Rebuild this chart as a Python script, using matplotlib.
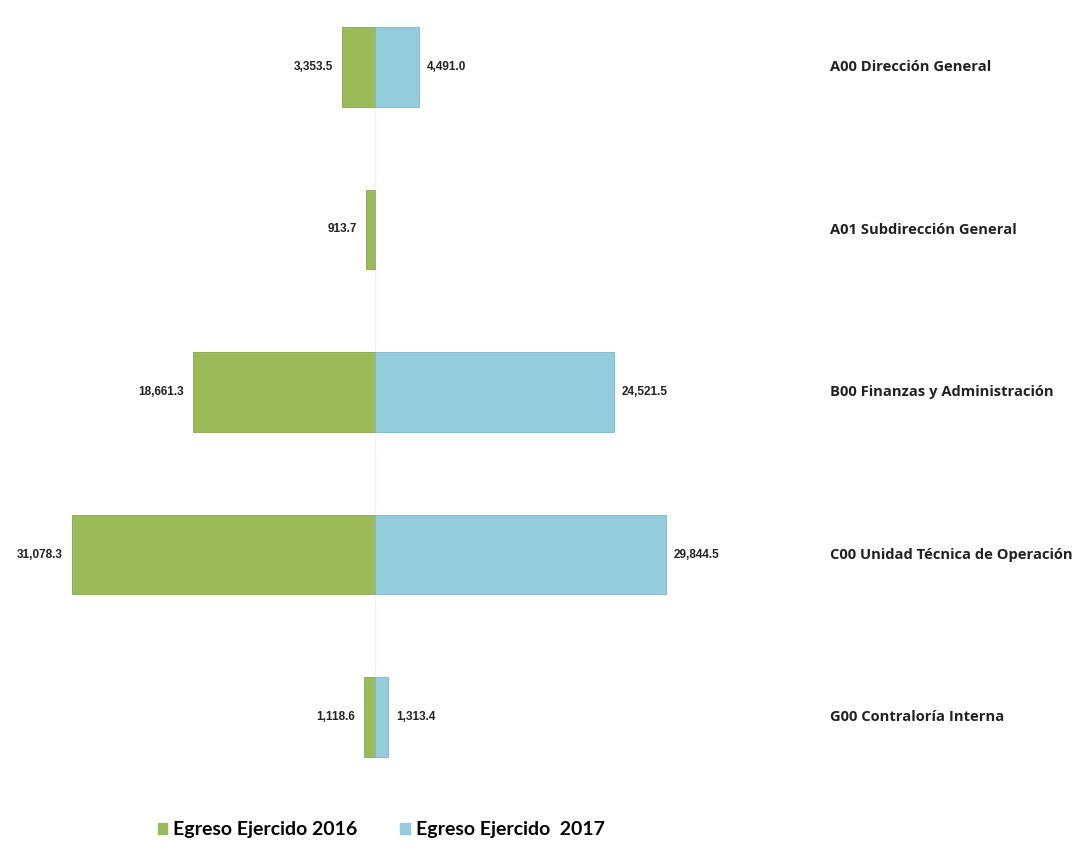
import matplotlib.pyplot as plt
from matplotlib.patches import Patch

# datos (millones de pesos)
areas = ['A00 Dirección General', 'A01 Subdirección General', 'B00 Finanzas y Administración',
         'C00 Unidad Técnica de Operación', 'G00 Contraloría Interna']
egreso_2016 = [3353.5, 913.7, 18661.3, 31078.3, 1118.6]
egreso_2017 = [4491.0, 0.0, 24521.5, 29844.5, 1313.4]
series = ['Egreso Ejercido 2016', 'Egreso Ejercido  2017']

verde = '#9bbb59'
azul = '#93cddd'

W, H = 1089, 861
fig = plt.figure(figsize=(W / 100, H / 100), dpi=100)
ax = fig.add_axes([0, 0, 1, 1])

upp = 102.6  # unidades por pixel
ax.set_xlim(-375 * upp, (W - 375) * upp)
esp = 162.5
ax.set_ylim((H - 67) / esp, -67 / esp)

y = list(range(len(areas)))
ax.barh(y, [-v for v in egreso_2016], height=0.49, color=verde, edgecolor='#86a84a', linewidth=0.6)
ax.barh(y, egreso_2017, height=0.49, color=azul, edgecolor='#7fb6c6', linewidth=0.6)
ax.plot([0, 0], [0.25, 3.75], color='#f0f0f0', lw=1, zorder=0)

vfont = dict(family=['Liberation Sans', 'DejaVu Sans'], fontsize=8.5, fontweight='bold', color='#222222')
for i in y:
    ax.text(-egreso_2016[i] - 9 * upp, i, f'{egreso_2016[i]:,.1f}', ha='right', va='center', **vfont)
    if egreso_2017[i] > 0:
        ax.text(egreso_2017[i] + 8 * upp, i, f'{egreso_2017[i]:,.1f}', ha='left', va='center', **vfont)
    ax.text(830 / W, i, areas[i], transform=ax.get_yaxis_transform(), ha='left', va='center',
            family=['Open Sans', 'DejaVu Sans'], fontsize=10.6, fontweight='bold', color='#222222')

ax.axis('off')

handles = [Patch(color=verde), Patch(color=azul)]
fig.legend(handles, series, loc='center left', bbox_to_anchor=(140 / W, 1 - 830 / H), ncol=2,
           frameon=False, handlelength=0.5, handleheight=0.5, handletextpad=0.3, columnspacing=2.2,
           prop=dict(family=['Lato', 'DejaVu Sans'], size=14, weight='bold'))

fig.savefig('out.png', dpi=100)
